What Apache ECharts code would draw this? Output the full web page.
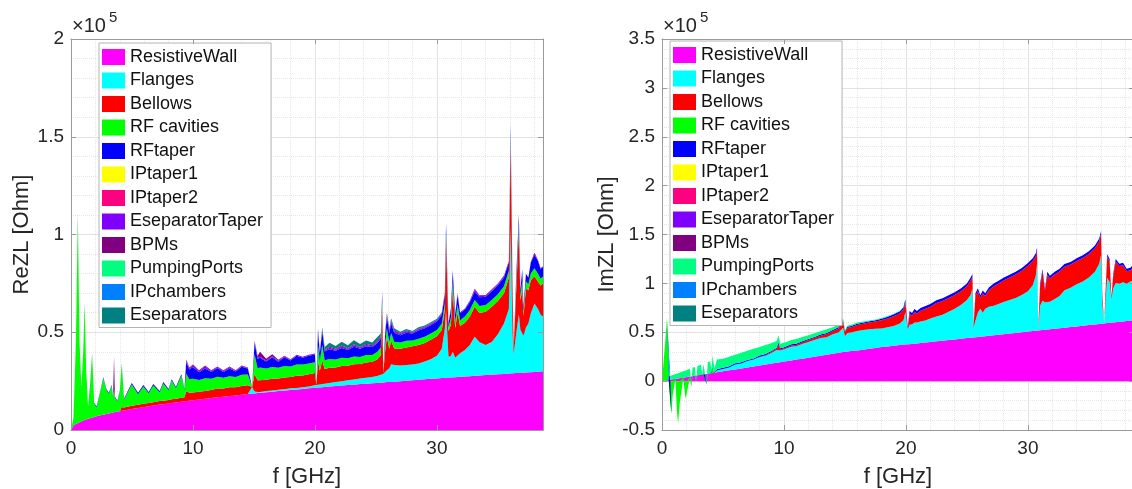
<!DOCTYPE html>
<html><head><meta charset="utf-8">
<script src="https://cdn.jsdelivr.net/npm/echarts/dist/echarts.min.js"></script>
<style>html,body{margin:0;padding:0;background:#fff}#c{width:1132px;height:489px}</style>
</head><body><div id="c"></div>
<script>
// ---------- DATA (values in units of 1e5 Ohm, frequency in GHz) ----------
const seriesNames = ['ResistiveWall','Flanges','Bellows','RF cavities','RFtaper','IPtaper1','IPtaper2','EseparatorTaper','BPMs','PumpingPorts','IPchambers','Eseparators'];
const seriesColors = ['#ff00ff','#00ffff','#ff0000','#00ff00','#0000ff','#ffff00','#ff0080','#8000ff','#800080','#00ff80','#0080ff','#008080'];
const xTicks = [0,10,20,30];
const yTicksRe = [0,0.5,1,1.5,2];
const yTicksIm = [-0.5,0,0.5,1,1.5,2,2.5,3,3.5];

// ---- Real part ----
const fRe = [0,0.2,0.4,0.56,0.7,0.85,1.0,1.12,1.25,1.4,
1.55,1.73,1.9,2.1,2.4,2.65,2.9,3.1,3.34,3.45,
3.53,3.6,3.8,4.0,4.16,4.35,4.98,5.5,5.93,6.37,
6.75,7.27,7.57,8.0,8.26,8.6,9.05,9.3,9.45,9.7,
10,10.5,11,11.5,12,12.5,13,13.5,14,14.5,
14.85,15.05,15.3,15.5,16,16.5,17,17.5,18,18.5,
19,19.5,20,20.12,20.25,20.4,20.6,20.8,21.2,21.7,
22.2,22.7,23.2,23.7,24.2,24.7,25.1,25.4,25.52,25.6,
25.75,25.9,26.1,26.25,26.5,27,27.5,28,28.5,29,
29.5,30,30.4,30.65,30.75,30.95,31.15,31.3,31.5,31.7,
31.9,32.3,32.7,33.1,33.5,34,34.5,35,35.5,35.9,
36.05,36.2,36.3,36.5,36.72,36.85,37.0,37.1,37.3,37.5,
37.7,38.0,38.3,38.5,38.7];
const rwRe = [0,.022,.031,.036,.040,.045,.048,.051,.054,.057,
.060,.063,.066,.070,.075,.078,.082,.085,.088,.090,
.091,.091,.094,.096,.098,.100,.108,.113,.117,.121,
.125,.130,.132,.136,.138,.141,.145,.147,.148,.150,
.152,.156,.160,.164,.167,.170,.174,.177,.180,.184,
.186,.187,.189,.190,.193,.196,.199,.202,.205,.207,
.210,.213,.216,.216,.217,.218,.219,.220,.222,.225,
.227,.230,.232,.235,.237,.239,.241,.242,.243,.243,
.244,.245,.246,.246,.247,.250,.252,.255,.257,.260,
.262,.264,.266,.267,.267,.268,.269,.270,.270,.271,
.272,.274,.275,.277,.279,.281,.283,.285,.287,.289,
.289,.290,.290,.291,.292,.292,.293,.293,.294,.295,
.296,.297,.298,.299,.300];
const flRe = [0,0,0,0,0,0,0,0,0,0,
0,0,0,0,0,0,0,0,0,0,
0,0,0,0,0,0,0,0,0,0,
0,0,0,0,0,0,0,0,0,0,
0,0,0,0,0,0,0,0,0,0,
.034,.010,.005,.005,.006,.006,.007,.007,.008,.008,
.009,.010,.010,.014,.015,.015,.016,.017,.018,.020,
.022,.024,.026,.028,.030,.032,.035,.040,.050,.045,
.055,.060,.070,.090,.085,.080,.080,.080,.083,.090,
.100,.116,.150,.250,.350,.107,.110,.130,.100,.110,
.120,.135,.160,.200,.170,.154,.167,.205,.258,.330,
.750,.200,.100,.200,.300,.220,.200,.190,.230,.250,
.300,.350,.320,.290,.280];
const beRe = [0,0,0,0,0,0,0,0,0,0,
0,0,0,0,0,0,0,0,0,0,
0,0,0,0,.020,.015,.016,.016,.017,.017,
.017,.018,.018,.018,.019,.019,.020,.020,.050,.040,
.040,.040,.040,.040,.045,.042,.045,.042,.045,.045,
0,.090,.060,.060,.058,.060,.058,.060,.058,.062,
.060,.062,.065,0,.120,.070,.120,.075,.078,.075,
.078,.075,.078,.075,.078,.078,.085,.100,.330,.002,
.100,.170,.100,.120,.085,.085,.090,.093,.095,.095,
.100,.100,.095,.100,.360,.130,.160,.320,.150,.220,
.140,.140,.145,.153,.150,.170,.180,.170,.155,.160,
.430,.200,.030,.220,.430,.150,.230,.100,.200,.170,
.170,.140,.140,.150,.170];
const rfRe = [0,.035,.415,1.040,.405,.170,.347,.594,.241,.058,
.155,.322,.069,.045,.120,.187,.123,.100,.137,.075,
.110,.074,.051,.099,.217,.040,.109,.054,.089,.050,
.086,.045,.088,.049,.096,.053,.113,.036,.090,.070,
.070,.060,.065,.058,.060,.055,.056,.052,.058,.055,
0,.100,.060,.065,.058,.060,.055,.058,.054,.058,
.056,.055,.055,0,.080,.050,.080,.045,.045,.040,
.042,.038,.040,.036,.038,.035,.038,.040,.040,0,
.035,.045,.035,.040,.035,.032,.034,.030,.032,.032,
.032,.032,.032,.030,.030,.020,.035,.040,.035,.040,
.030,.032,.034,.035,.035,.034,.035,.035,.035,.035,
.030,.025,0,.030,.030,.020,.040,.020,.035,.030,
.035,.040,.040,.035,.035];
const rtRe = [0,.003,.005,.015,.005,.005,.005,.005,.005,.005,
.005,.005,.005,.005,.005,.005,.005,.005,.005,.005,
.005,.005,.005,.005,.005,.005,.007,.007,.007,.007,
.007,.007,.007,.007,.007,.007,.007,.007,.060,.050,
.060,.040,.050,.035,.045,.030,.040,.028,.040,.030,
0,.060,.050,.050,.035,.050,.030,.045,.030,.045,
.035,.040,.040,0,.070,.040,.070,.045,.050,.045,
.050,.042,.050,.042,.045,.040,.045,.045,.040,0,
.045,.060,.045,.050,.045,.038,.042,.035,.042,.043,
.042,.043,.045,.045,.050,.020,.040,.050,.035,.050,
.035,.035,.040,.045,.045,.042,.045,.045,.045,.045,
.050,.035,0,.040,.045,.035,.055,.025,.040,.035,
.055,.070,.065,.050,.050];
const etRe = [0,0,0,0,0,0,0,0,0,0,
0,0,0,0,0,0,0,0,0,0,
0,0,0,0,0,0,0,0,0,0,
0,0,0,0,0,0,0,0,.007,.005,
.008,.005,.010,.005,.005,.005,.006,.003,.004,.003,
0,.005,.005,.005,.005,.005,.005,.005,.004,.005,
.005,.005,.005,0,.010,.005,.010,.005,.008,.005,
.008,.005,.008,.005,.007,.005,.007,.007,.007,0,
.006,.010,.010,.010,.008,.006,.007,.005,.006,.006,
.006,.006,.006,.005,.005,.003,.005,.005,.005,.005,
.005,.005,.006,.007,.006,.006,.006,.006,.006,.005,
.010,0,0,0,.005,0,.005,0,0,0,
.005,.010,.005,.005,.005];
const bpRe = [0,0,0,0,0,0,0,0,0,0,
0,0,0,0,0,0,0,0,0,0,
.170,0,0,0,0,0,0,0,0,0,
0,0,0,0,0,0,0,0,.005,.005,
.005,.004,.005,.003,.003,.003,.004,.003,.003,.003,
0,.005,.010,.025,.010,.010,.005,.003,.003,0,
0,0,0,0,0,0,0,.003,.005,.005,
.005,.004,.005,.004,.005,.004,.005,.005,.004,0,
.004,.005,.005,.005,.005,.004,.004,.003,.003,.003,
.003,.003,.003,.003,.002,.002,.003,.003,.003,.003,
0,0,.003,.005,.004,.004,.004,.004,.004,0,
0,0,0,0,0,0,0,0,0,0,
0,0,0,0,0];
const esRe = [0,0,0,.010,0,0,0,0,0,0,
0,0,0,0,0,0,0,0,0,0,
0,0,0,0,0,0,0,0,0,0,
0,0,0,0,0,0,0,0,0,0,
0,0,0,0,0,0,0,0,0,0,
0,0,0,0,0,0,0,0,0,0,
0,0,0,0,.010,0,.010,.015,.020,.015,
.020,.015,.020,.015,.018,.015,.018,.015,.006,0,
.008,.005,.010,.010,.010,.008,.008,.006,.007,.006,
.006,.005,.005,.003,.002,0,.003,0,0,0,
0,0,0,0,0,0,0,0,0,0,
.010,0,0,0,0,0,0,0,0,0,
0,0,0,0,0];

// ---- Imaginary part ----
const fIm = [0,0.2,0.41,0.55,0.68,0.77,0.88,1.1,1.22,1.32,
1.45,1.75,1.88,1.95,2.05,2.3,2.4,2.5,2.7,2.8,
2.9,3.2,3.3,3.4,3.55,3.65,3.75,3.95,4.05,4.15,
4.3,4.5,5.0,5.5,6.0,6.5,7.0,7.5,8.0,8.5,
9.0,9.4,9.55,9.7,9.9,10.2,10.6,11,11.5,12,
12.5,13,13.5,14,14.5,14.85,15.0,15.2,15.5,16,
16.5,17,17.5,18,18.5,19,19.5,19.8,19.95,20.15,
20.3,20.5,20.7,20.9,21.2,21.6,22,22.5,23,23.5,
24,24.5,25,25.3,25.45,25.55,25.7,25.9,26.1,26.3,
26.5,26.8,27.2,27.6,28,28.5,29,29.5,30,30.4,
30.65,30.75,30.85,31.0,31.2,31.4,31.6,31.8,32.2,32.6,
33,33.5,34,34.5,35,35.5,35.85,36.0,36.1,36.25,
36.5,36.7,36.85,37.0,37.2,37.5,37.8,38.1,38.4,38.7];
const rwIm = [0,.004,.008,.011,.014,.015,.018,.022,.024,.026,
.029,.035,.038,.039,.041,.046,.048,.050,.054,.056,
.058,.064,.066,.068,.071,.073,.075,.079,.081,.083,
.086,.090,.100,.110,.120,.130,.140,.150,.160,.170,
.180,.188,.190,.194,.198,.204,.212,.220,.230,.240,
.250,.260,.270,.280,.290,.297,.300,.303,.307,.313,
.322,.330,.340,.348,.355,.363,.370,.374,.375,.377,
.378,.380,.383,.386,.390,.395,.400,.407,.413,.420,
.426,.433,.440,.444,.446,.447,.449,.451,.454,.457,
.460,.464,.469,.474,.480,.486,.493,.500,.508,.513,
.516,.517,.519,.521,.523,.526,.529,.531,.536,.542,
.547,.554,.560,.567,.574,.580,.585,.587,.588,.590,
.594,.596,.598,.600,.603,.607,.611,.615,.619,.622];
const flIm = [0,0,0,0,0,0,0,0,0,0,
0,0,0,0,0,0,0,0,0,0,
0,0,0,0,0,0,0,0,0,0,
0,.019,.025,.030,.050,.050,.065,.070,.085,.090,
.110,.130,.130,.120,.122,.130,.140,.137,.150,.160,
.170,.180,.180,.200,.210,.250,.160,.190,.190,.200,
.200,.200,.195,.190,.195,.200,.220,.250,.330,.150,
.200,.200,.217,.214,.220,.225,.240,.253,.267,.290,
.314,.347,.390,.436,.500,.100,.171,.250,.286,.243,
.280,.296,.301,.316,.330,.344,.357,.380,.412,.467,
.564,.683,.020,.250,.300,.280,.280,.280,.304,.330,
.383,.400,.430,.453,.486,.540,.615,.700,.200,0,
.460,.420,.240,.350,.400,.390,.400,.380,.400,.410];
const beIm = [0,0,0,0,0,0,0,0,0,0,
0,0,0,0,0,0,0,0,0,0,
0,0,0,0,0,0,0,0,0,0,
0,0,0,0,0,0,0,0,.005,.005,
.010,.012,.050,.010,.010,.011,.013,.013,.015,.020,
.020,.025,.030,.030,.040,.060,.040,.050,.055,.060,
.065,.070,.075,.085,.090,.100,.105,.110,.100,.010,
.110,.090,.110,.090,.110,.120,.120,.140,.140,.140,
.140,.140,.140,.150,.120,.020,.250,.220,.110,.200,
.130,.170,.200,.210,.220,.230,.240,.250,.260,.250,
.200,.140,.005,.200,.300,.120,.280,.240,.250,.250,
.240,.238,.240,.240,.240,.240,.230,.220,.100,0,
.220,.210,.010,.130,.220,.180,.175,.130,.115,.140];
const rfIm = [0,.300,.630,0,-.220,-.330,-.140,0,-.300,-.435,
-.230,0,-.130,-.180,-.110,0,-.060,0,0,-.010,
0,0,0,0,0,-.030,0,0,0,.060,
0,0,0,0,0,0,0,0,0,0,
0,0,0,0,0,0,0,0,0,0,
0,0,0,0,0,0,0,0,0,0,
0,0,0,0,0,0,0,0,0,0,
0,0,0,0,0,0,0,0,0,0,
0,0,0,0,0,0,0,0,0,0,
0,0,0,0,0,0,0,0,0,0,
0,0,0,0,0,0,0,0,0,0,
0,0,0,0,0,0,0,0,0,0,
0,0,0,0,0,0,0,0,0,0];
const rtIm = [0,0,.002,.002,.002,0,.002,.002,0,0,
.002,.002,0,0,.002,.002,0,.002,.002,0,
.002,.002,0,.002,.002,0,.002,.002,.002,.002,
.002,.012,.012,.012,.012,.012,.012,.012,.012,.012,
.012,.012,.025,.012,.012,.012,.012,.012,.012,.012,
.012,.012,.012,.013,.014,.013,.010,.012,.013,.015,
.013,.012,.013,.015,.018,.020,.020,.021,.030,.020,
.030,.028,.028,.028,.028,.028,.028,.028,.028,.028,
.028,.028,.028,.028,.030,.015,.028,.028,.028,.028,
.028,.028,.028,.028,.028,.028,.028,.028,.028,.028,
.028,.028,.005,.028,.025,.022,.030,.028,.028,.027,
.028,.027,.028,.028,.028,.028,.028,.030,.010,0,
.025,.023,.010,.020,.027,.023,.024,.025,.026,.028];
const ppIm = [0,.005,.010,.035,.038,.043,.043,.049,.052,.054,
.057,.065,.068,.070,.072,.079,0,.084,.089,0,
.094,.101,0,.106,.110,0,.115,.120,.037,.115,
.042,.099,.093,.098,.088,.098,.093,.098,.088,.093,
.078,.068,.075,.045,.049,.044,.044,.049,.044,.038,
.038,.033,.038,.027,.026,.020,.010,.015,.012,.012,
.010,.008,.007,.007,.007,.007,.005,.005,.005,.003,
0,0,0,0,0,0,0,0,0,0,
0,0,0,0,0,0,0,0,0,0,
0,0,0,0,0,0,0,0,0,0,
0,0,0,0,0,0,0,0,0,0,
0,0,0,0,0,0,0,0,0,0,
0,0,0,0,0,0,0,0,0,0];

// ---------- CHART ----------
const reData = {'ResistiveWall':rwRe,'Flanges':flRe,'Bellows':beRe,'RF cavities':rfRe,'RFtaper':rtRe,'EseparatorTaper':etRe,'BPMs':bpRe,'Eseparators':esRe};
const imData = {'ResistiveWall':rwIm,'Flanges':flIm,'Bellows':beIm,'RF cavities':rfIm,'RFtaper':rtIm,'PumpingPorts':ppIm};

const FONT = "'Liberation Sans', Arial, Helvetica, sans-serif";
const AX = '#9a9a9a', TXT = '#262626';
const GRID_MAJ = '#e2e2e2', GRID_MIN = '#e6e6e6';
const XMAX = 38.7;

function xMinor(gi){return {gridIndex:gi,type:'value',min:0,max:XMAX,interval:2,
  axisLine:{show:false,onZero:false},axisTick:{show:false},axisLabel:{show:false},
  splitLine:{show:true,lineStyle:{color:GRID_MIN,type:'dotted',width:1}},z:0};}
function xMain(gi){return {gridIndex:gi,type:'value',min:0,max:XMAX,interval:10,position:'bottom',
  axisLine:{show:false,onZero:false},axisTick:{show:false},
  axisLabel:{show:true,fontSize:19,color:TXT,fontFamily:FONT,margin:9,
    formatter:v=>xTicks.indexOf(Math.round(v*1000)/1000)>=0?String(v):''},
  splitLine:{show:true,lineStyle:{color:GRID_MAJ,width:1}},
  name:'f [GHz]',nameLocation:'middle',nameGap:36,
  nameTextStyle:{fontSize:22,color:TXT,fontFamily:FONT},z:0};}
function xBox(gi,pos){return {gridIndex:gi,type:'value',min:0,max:XMAX,interval:10,position:pos,
  axisLine:{show:true,onZero:false,lineStyle:{color:AX,width:1}},
  axisTick:{show:true,inside:true,length:5,lineStyle:{color:AX}},
  axisLabel:{show:false},splitLine:{show:false},z:5};}
function yMain(gi,ticks,name,gap){return {gridIndex:gi,type:'value',min:ticks[0],max:ticks[ticks.length-1],interval:0.5,position:'left',
  axisLine:{show:false,onZero:false},axisTick:{show:false},
  axisLabel:{fontSize:19,color:TXT,fontFamily:FONT,margin:7},
  splitLine:{show:true,lineStyle:{color:GRID_MAJ,width:1}},
  minorTick:{show:false,splitNumber:5},
  minorSplitLine:{show:true,lineStyle:{color:GRID_MIN,type:'dotted',width:1}},
  name:name,nameLocation:'middle',nameGap:gap,
  nameTextStyle:{fontSize:22,color:TXT,fontFamily:FONT},z:0};}
function yBox(gi,ticks,pos){return {gridIndex:gi,type:'value',min:ticks[0],max:ticks[ticks.length-1],interval:0.5,position:pos,
  axisLine:{show:true,onZero:false,lineStyle:{color:AX,width:1}},
  axisTick:{show:true,inside:true,length:5,lineStyle:{color:AX}},
  axisLabel:{show:false},splitLine:{show:false},z:5};}

// Data rows are [value, frequency] so that the stacked dimension (the first one) is the value.
// Positive and negative parts stack separately (ECharts 'samesign').
function buildSeries(dataMap, fArr, xi, yi, stackId){
  return seriesNames.map((name,i)=>{
    const arr = dataMap[name];
    const s = {name:name,type:'line',xAxisIndex:xi,yAxisIndex:yi,
      symbol:'none',showSymbol:false,smooth:false,silent:true,animation:false,
      dimensions:[{name:'v',type:'float'},{name:'f',type:'float'}],
      encode:{x:'f',y:'v'},
      lineStyle:{width:0,opacity:0},
      itemStyle:{color:seriesColors[i]},
      areaStyle:{color:seriesColors[i],opacity:1},
      data: arr ? fArr.map((f,k)=>[arr[k],f]) : []};
    if (arr){ s.stack = stackId; s.stackStrategy = 'samesign'; }
    return s;
  });
}

function legend(left,top){return {left:left,top:top,orient:'vertical',data:seriesNames,icon:'rect',
  itemWidth:23,itemHeight:16,itemGap:5.5,padding:[5,8,3,3],
  backgroundColor:'#ffffff',borderColor:'#b4b4b4',borderWidth:1,borderRadius:0,
  selectedMode:false,itemStyle:{borderWidth:0},
  textStyle:{fontSize:18,color:'#111111',fontFamily:FONT}};}

const chart = echarts.init(document.getElementById('c'), null, {renderer:'canvas'});
chart.setOption({
  animation:false,
  backgroundColor:'#ffffff',
  grid:[
    {left:71,top:39,width:472,height:391,containLabel:false,outerBoundsMode:'none'},
    {left:662,top:39,width:472,height:391,containLabel:false,outerBoundsMode:'none'}
  ],
  xAxis:[xMinor(0),xMinor(1),xMain(0),xMain(1),xBox(0,'bottom'),xBox(1,'bottom'),xBox(0,'top'),xBox(1,'top')],
  yAxis:[yMain(0,yTicksRe,'ReZL [Ohm]',38),yMain(1,yTicksIm,'ImZL [Ohm]',44),
         yBox(0,yTicksRe,'left'),yBox(1,yTicksIm,'left'),yBox(0,yTicksRe,'right'),yBox(1,yTicksIm,'right')],
  legend:[legend(99,43),legend(670,41)],
  graphic:[
    {type:'text',left:72,top:16,z:10,style:{text:'\u00d710',fontSize:20,fontFamily:FONT,fill:TXT}},
    {type:'text',left:109,top:10,z:10,style:{text:'5',fontSize:15,fontFamily:FONT,fill:TXT}},
    {type:'text',left:663,top:16,z:10,style:{text:'\u00d710',fontSize:20,fontFamily:FONT,fill:TXT}},
    {type:'text',left:700,top:10,z:10,style:{text:'5',fontSize:15,fontFamily:FONT,fill:TXT}}
  ],
  series:[].concat(buildSeries(reData,fRe,2,0,'re'),buildSeries(imData,fIm,3,1,'im'))
});
</script></body></html>
